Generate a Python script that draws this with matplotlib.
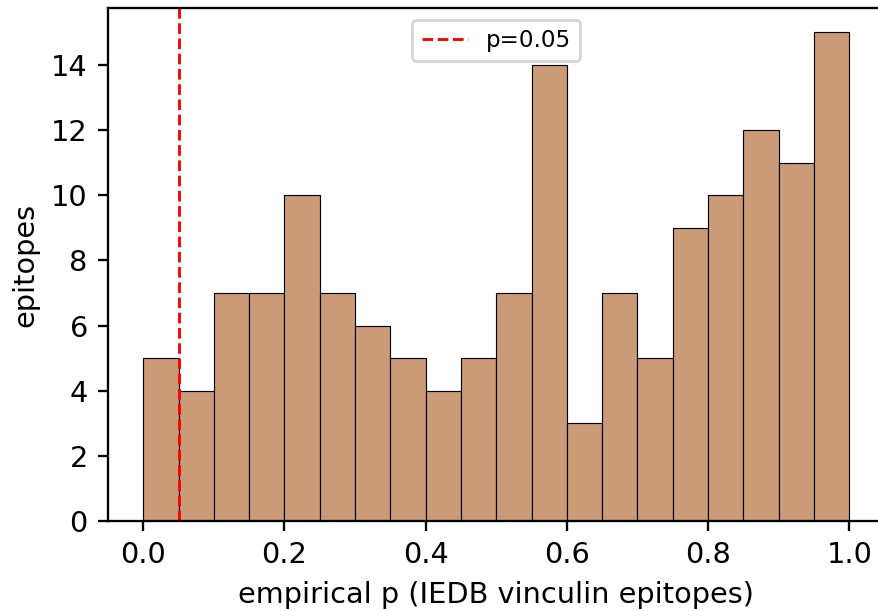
import numpy as np
import matplotlib
matplotlib.use("Agg")
import matplotlib.pyplot as plt

# histogram of empirical p values, 20 bins over [0, 1]
bin_edges = np.linspace(0, 1, 21)
counts = [5, 4, 7, 7, 10, 7, 6, 5, 4, 5, 7, 14, 3, 7, 5, 9, 10, 12, 11, 15]
cutoff = 0.05

DPI = 207


def main():
    fig = plt.figure(figsize=(878 / DPI, 611 / DPI), dpi=DPI)
    ax = fig.add_axes([0.123, 0.1473, 0.8845, 0.8396])

    ax.hist(bin_edges[:-1], bins=bin_edges, weights=counts,
            color="#CB9A76", edgecolor="black", linewidth=0.4)
    ax.axvline(cutoff, color="red", linestyle="--", linewidth=1,
               label="p={}".format(cutoff))

    ax.set_xlabel("empirical p (IEDB vinculin epitopes)")
    ax.set_ylabel("epitopes")
    ax.legend(loc="upper center", fontsize=8)

    fig.savefig("out.png", dpi=DPI)


if __name__ == "__main__":
    main()
